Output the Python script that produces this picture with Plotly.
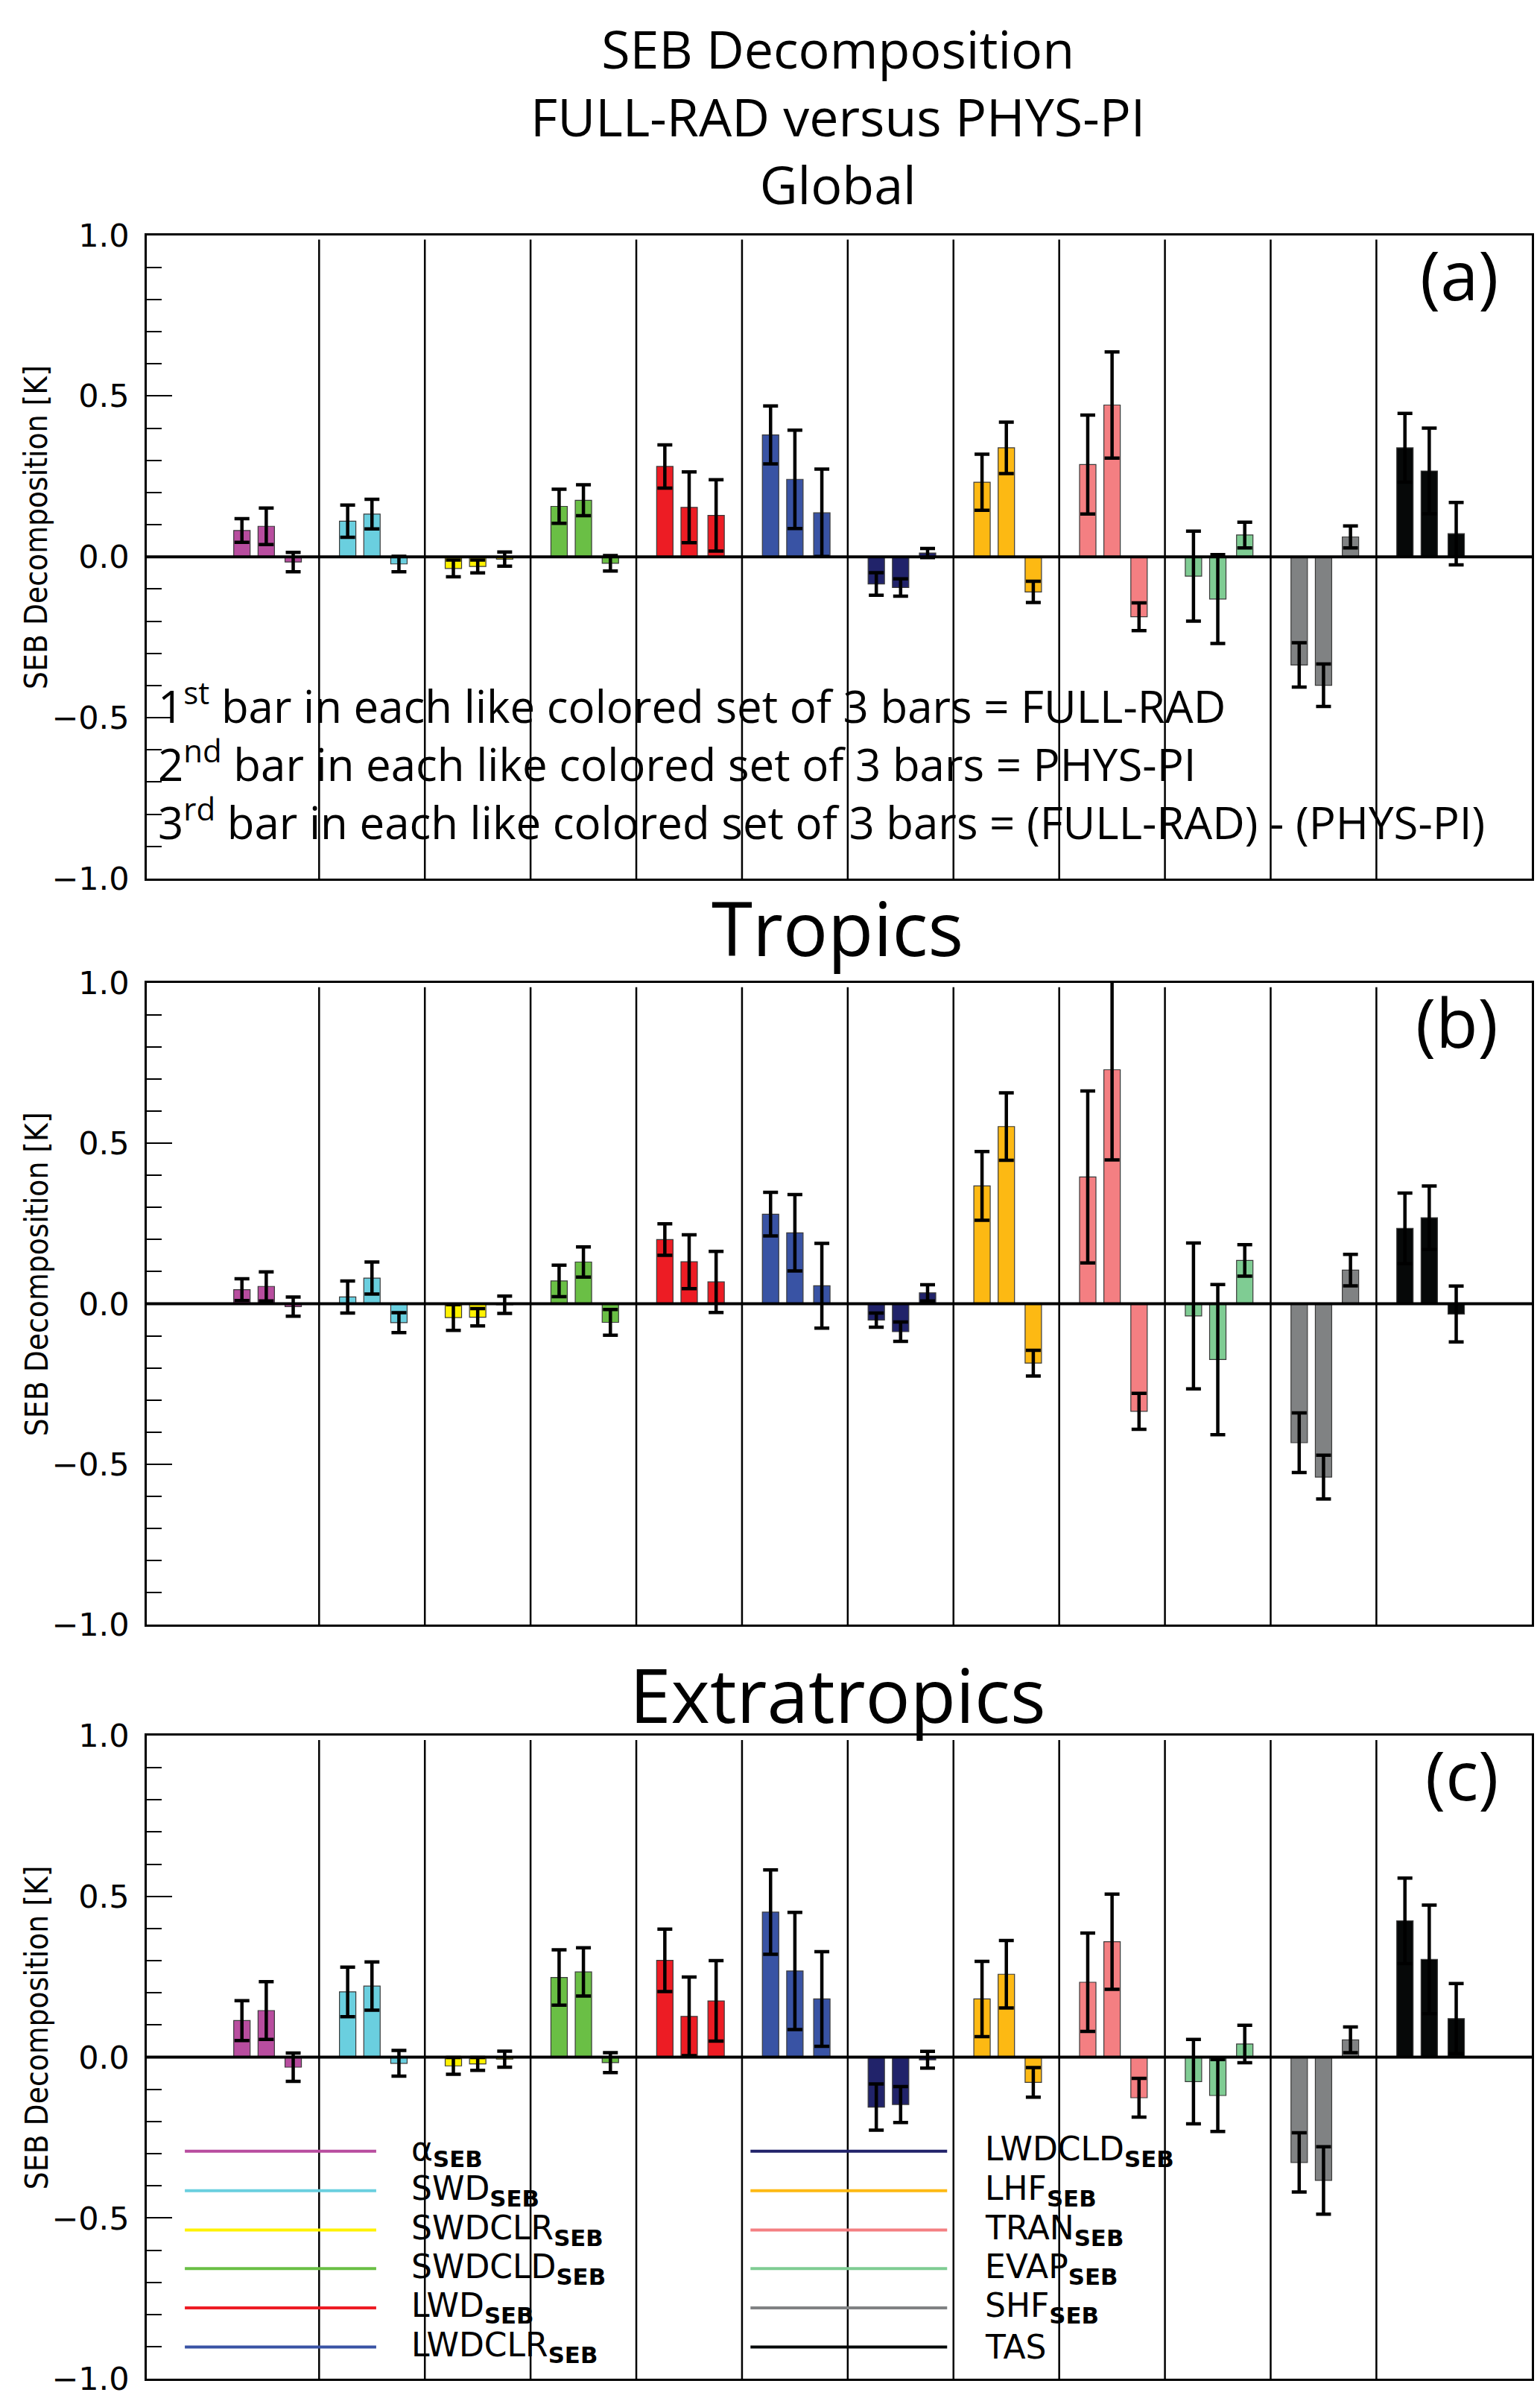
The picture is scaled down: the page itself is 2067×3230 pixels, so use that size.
import plotly.graph_objects as go

# === DATA ===
variables = ["alpha", "SWD", "SWDCLR", "SWDCLD", "LWD", "LWDCLR",
             "LWDCLD", "LHF", "TRAN", "EVAP", "SHF", "TAS"]
legend_labels = ["α<sub><b>SEB</b></sub>", "SWD<sub><b>SEB</b></sub>",
                 "SWDCLR<sub><b>SEB</b></sub>", "SWDCLD<sub><b>SEB</b></sub>",
                 "LWD<sub><b>SEB</b></sub>", "LWDCLR<sub><b>SEB</b></sub>",
                 "LWDCLD<sub><b>SEB</b></sub>", "LHF<sub><b>SEB</b></sub>",
                 "TRAN<sub><b>SEB</b></sub>", "EVAP<sub><b>SEB</b></sub>",
                 "SHF<sub><b>SEB</b></sub>", "TAS"]
colors = ["#b84d9f", "#6acfdf", "#fff200", "#6abf45", "#ed1c24", "#3953a4",
          "#21236a", "#fdb913", "#f47f82", "#7fcc93", "#808283", "#060808"]

# Global (a)
glob_full = [0.082, 0.111, -0.036, 0.157, 0.281, 0.379, -0.084, 0.232, 0.287, -0.060, -0.336, 0.339]
glob_full_err = [0.037, 0.050, 0.026, 0.053, 0.067, 0.090, 0.035, 0.087, 0.154, 0.140, 0.069, 0.107]
glob_phys = [0.095, 0.133, -0.030, 0.176, 0.154, 0.241, -0.095, 0.339, 0.472, -0.131, -0.399, 0.267]
glob_phys_err = [0.057, 0.046, 0.020, 0.048, 0.110, 0.153, 0.027, 0.080, 0.165, 0.138, 0.066, 0.133]
glob_diff = [-0.016, -0.022, -0.007, -0.020, 0.129, 0.137, 0.012, -0.109, -0.186, 0.068, 0.062, 0.072]
glob_diff_err = [0.030, 0.024, 0.022, 0.024, 0.111, 0.136, 0.014, 0.033, 0.043, 0.040, 0.034, 0.097]

# Tropics (b)
trop_full = [0.044, 0.021, -0.043, 0.071, 0.200, 0.279, -0.051, 0.367, 0.395, -0.038, -0.433, 0.235]
trop_full_err = [0.034, 0.050, 0.040, 0.049, 0.049, 0.068, 0.022, 0.107, 0.268, 0.227, 0.093, 0.110]
trop_phys = [0.054, 0.080, -0.042, 0.130, 0.131, 0.221, -0.087, 0.552, 0.729, -0.174, -0.540, 0.268]
trop_phys_err = [0.045, 0.050, 0.027, 0.047, 0.084, 0.119, 0.030, 0.105, 0.281, 0.234, 0.068, 0.099]
trop_diff = [-0.009, -0.059, -0.003, -0.058, 0.068, 0.056, 0.034, -0.185, -0.335, 0.135, 0.105, -0.032]
trop_diff_err = [0.030, 0.031, 0.027, 0.040, 0.095, 0.132, 0.025, 0.040, 0.056, 0.049, 0.049, 0.087]

# Extratropics (c)
extr_full = [0.114, 0.203, -0.027, 0.248, 0.301, 0.451, -0.155, 0.181, 0.233, -0.076, -0.327, 0.424]
extr_full_err = [0.062, 0.077, 0.026, 0.086, 0.097, 0.131, 0.072, 0.117, 0.153, 0.131, 0.092, 0.133]
extr_phys = [0.145, 0.221, -0.021, 0.265, 0.127, 0.268, -0.147, 0.258, 0.359, -0.119, -0.383, 0.304]
extr_phys_err = [0.090, 0.075, 0.020, 0.075, 0.122, 0.182, 0.056, 0.105, 0.148, 0.112, 0.105, 0.169]
extr_diff = [-0.031, -0.019, -0.006, -0.017, 0.175, 0.181, -0.008, -0.078, -0.126, 0.041, 0.054, 0.120]
extr_diff_err = [0.044, 0.040, 0.025, 0.031, 0.125, 0.147, 0.026, 0.046, 0.060, 0.058, 0.040, 0.109]

tick_vals = [-1.0, -0.5, 0.0, 0.5, 1.0]
tick_text = ["\u22121.0", "\u22120.5", "0.0", "0.5", "1.0"]

panels = [
    ("(a)", glob_full, glob_full_err, glob_phys, glob_phys_err, glob_diff, glob_diff_err),
    ("(b)", trop_full, trop_full_err, trop_phys, trop_phys_err, trop_diff, trop_diff_err),
    ("(c)", extr_full, extr_full_err, extr_phys, extr_phys_err, extr_diff, extr_diff_err),
]

# === LAYOUT CONSTANTS ===
W, H = 2067, 3230
TITLE_FONT = "Open Sans, Noto Sans, sans-serif"
TICK_FONT = "DejaVu Sans, sans-serif"
YT_FONT = "Liberation Sans Narrow, DejaVu Sans Condensed, Roboto, sans-serif"
x_dom = [189 / W, 2048 / W]
y_doms = [[1 - 1164 / H, 1 - 287 / H],
          [1 - 2181 / H, 1 - 1306 / H],
          [1 - 3209 / H, 1 - 2332 / H]]
offsets = [-0.23, 0.0, 0.255]
bar_w = 0.155
groups = list(range(1, len(variables) + 1))

fig = go.Figure()
shapes = []
annotations = []

for p, (lab, full, full_e, phys, phys_e, diff, diff_e) in enumerate(panels):
    xa = "x" if p == 0 else "x%d" % (p + 1)
    ya = "y" if p == 0 else "y%d" % (p + 1)
    for off, vals, errs in [(offsets[0], full, full_e),
                            (offsets[1], phys, phys_e),
                            (offsets[2], diff, diff_e)]:
        fig.add_trace(go.Bar(
            x=[g + off for g in groups], y=vals, width=bar_w,
            marker=dict(color=colors, line=dict(color="#3a3a3a", width=1.2)),
            error_y=dict(type="data", array=errs, visible=True,
                         color="black", thickness=4.5, width=10),
            xaxis=xa, yaxis=ya, showlegend=False))

    # group separators and zero line
    for k in range(1, len(variables)):
        shapes.append(dict(type="line", xref=xa, yref=ya + " domain",
                           x0=k + 0.5, x1=k + 0.5, y0=0, y1=0.993,
                           line=dict(color="black", width=2.5)))
    shapes.append(dict(type="line", xref=xa + " domain", yref=ya,
                       x0=0, x1=1, y0=0, y1=0,
                       line=dict(color="black", width=4)))

    annotations.append(dict(text=lab, xref=xa + " domain", yref=ya + " domain",
                            x=0.977, y=0.94, xanchor="right", yanchor="middle",
                            showarrow=False,
                            font=dict(family=TITLE_FONT, size=92, color="black")))
    yd = y_doms[p]
    annotations.append(dict(text="SEB Decomposition [K]", xref="paper", yref="paper",
                            x=41 / W, y=(yd[0] + yd[1]) / 2 + 40 / H,
                            xanchor="center", yanchor="middle", textangle=-90,
                            showarrow=False,
                            font=dict(family=YT_FONT, size=42, color="black")))

    axis_common = dict(showline=True, linecolor="black", linewidth=2.5, mirror=True)
    fig.update_layout(**{
        ("xaxis" if p == 0 else "xaxis%d" % (p + 1)): dict(
            domain=x_dom, anchor=ya, range=[-0.13, 12.97],
            showticklabels=False, ticks="", showgrid=False, zeroline=False,
            **axis_common),
        ("yaxis" if p == 0 else "yaxis%d" % (p + 1)): dict(
            domain=yd, anchor=xa, range=[-1, 1],
            tickvals=tick_vals, ticktext=tick_text, ticks="inside", ticklen=34,
            tickwidth=2, tickcolor="black",
            minor=dict(dtick=0.1, tick0=0, ticks="inside", ticklen=20,
                       tickwidth=2, tickcolor="black", showgrid=False),
            showgrid=False, zeroline=False, ticklabelstandoff=12,
            tickfont=dict(family=TICK_FONT, size=43, color="black"),
            **axis_common),
    })

# main title (three lines in one block)
annotations.append(dict(text="SEB Decomposition<br>FULL-RAD versus PHYS-PI<br>Global",
                        xref="paper", yref="paper", x=0.54, y=1 - 125 / H,
                        xanchor="center", yanchor="middle", showarrow=False,
                        font=dict(family=TITLE_FONT, size=70, color="black")))
for txt, yc in [("Tropics", 1230), ("Extratropics", 2275)]:
    annotations.append(dict(text=txt, xref="paper", yref="paper", x=0.54, y=1 - yc / H,
                            xanchor="center", yanchor="middle", showarrow=False,
                            font=dict(family=TITLE_FONT, size=100, color="black")))

# explanation text in panel (a)
notes = ["1<sup>st</sup> bar in each like colored set of 3 bars = FULL-RAD",
         "2<sup>nd</sup> bar in each like colored set of 3 bars = PHYS-PI",
         "3<sup>rd</sup> bar in each like colored set of 3 bars = (FULL-RAD) - (PHYS-PI)"]
annotations.append(dict(text="<br>".join(notes), xref="x", yref="y", x=-0.04, y=-0.637,
                        xanchor="left", yanchor="middle", align="left", showarrow=False,
                        font=dict(family=TITLE_FONT, size=60, color="black")))

# legend in panel (c)
leg_y = [-0.292, -0.415, -0.537, -0.657, -0.779, -0.901]
for i, (lbl, col) in enumerate(zip(legend_labels, colors)):
    col_i, row = divmod(i, 6)
    x0, x1, xt = [(0.23, 2.04, 2.36), (5.58, 7.44, 7.78)][col_i]
    shapes.append(dict(type="line", xref="x3", yref="y3", x0=x0, x1=x1,
                       y0=leg_y[row], y1=leg_y[row], line=dict(color=col, width=4)))
    annotations.append(dict(text=lbl, xref="x3", yref="y3", x=xt, y=leg_y[row],
                            xanchor="left", yanchor="middle", showarrow=False,
                            font=dict(family=TICK_FONT, size=44, color="black")))

fig.update_layout(width=W, height=H, margin=dict(l=0, r=0, t=0, b=0),
                  plot_bgcolor="white", paper_bgcolor="white",
                  barmode="overlay", shapes=shapes, annotations=annotations)

fig.write_html("out.html")
